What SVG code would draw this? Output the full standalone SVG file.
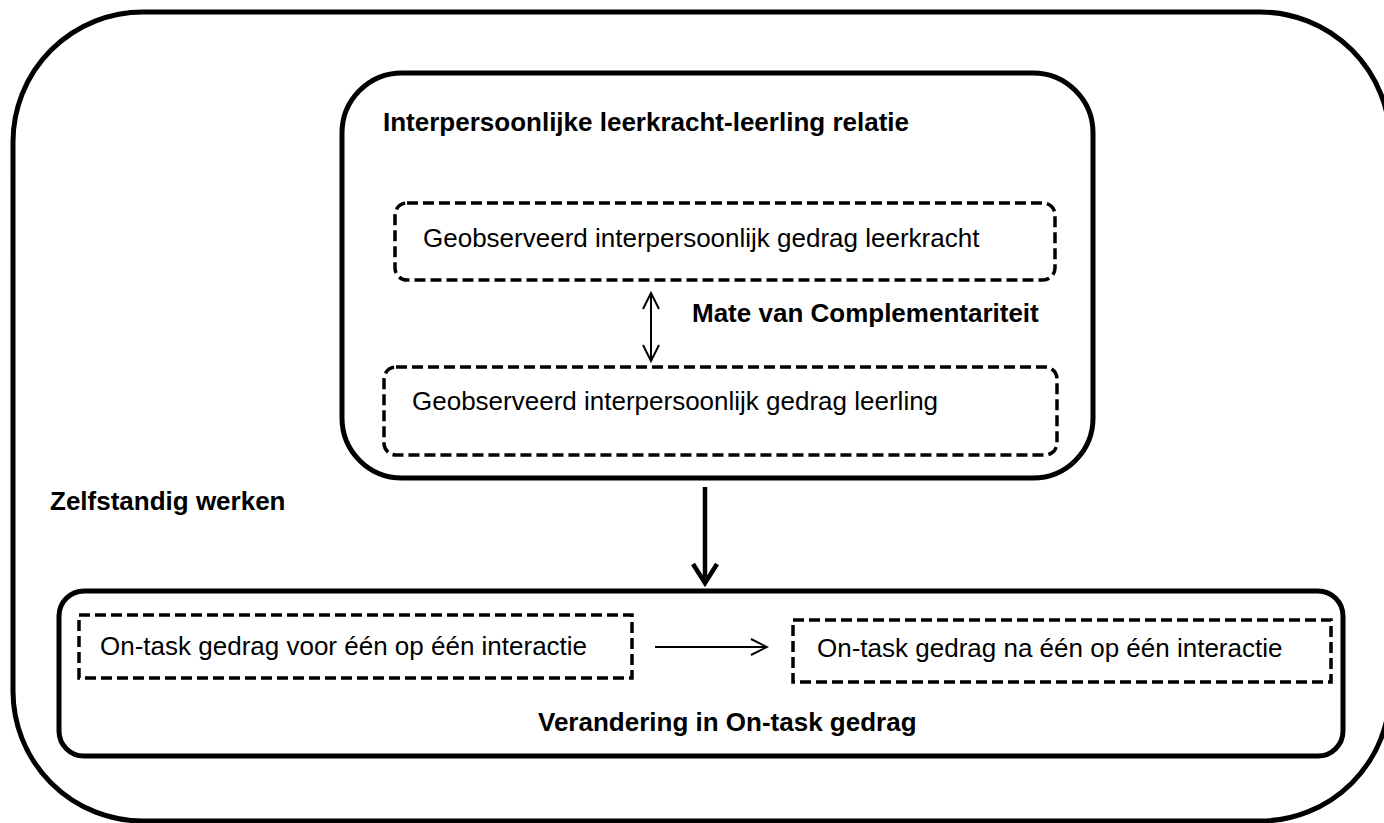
<svg xmlns="http://www.w3.org/2000/svg" width="1384" height="823" viewBox="0 0 1384 823">
<style>
  .solid { fill: none; stroke: #000; stroke-width: 5; }
  .dash { fill: none; stroke: #000; stroke-width: 3.5; stroke-dasharray: 11 5; }
  .t { font-family: "Liberation Sans", Arial, sans-serif; font-size: 26px; fill: #000; }
  .b { font-weight: bold; }
  .thin { fill: none; stroke: #000; stroke-width: 2; }
  .thick { fill: none; stroke: #000; stroke-width: 4.5; }
</style>
<defs>
  <marker id="openThin" viewBox="0 0 20 20" refX="18" refY="10" markerWidth="20" markerHeight="20" markerUnits="userSpaceOnUse" orient="auto-start-reverse">
    <path d="M2,2 L18,10 L2,18" fill="none" stroke="#000" stroke-width="2"/>
  </marker>
</defs>

<g id="outer">
  <rect class="solid" x="13" y="12" width="1377" height="809" rx="130" ry="130"/>
  <text class="t b" x="50" y="510">Zelfstandig werken</text>
</g>

<g id="relatie">
  <rect class="solid" x="342" y="73" width="751" height="405" rx="60" ry="60"/>
  <text class="t b" x="383" y="131">Interpersoonlijke leerkracht-leerling relatie</text>
</g>

<g id="leerkracht">
  <rect class="dash" x="395" y="203" width="660" height="77" rx="12" ry="12"/>
  <text class="t" x="423" y="247">Geobserveerd interpersoonlijk gedrag leerkracht</text>
</g>

<g id="complementariteit">
  <text class="t b" x="692" y="322">Mate van Complementariteit</text>
</g>

<g id="leerling">
  <rect class="dash" x="384" y="367" width="673" height="88" rx="12" ry="12"/>
  <text class="t" x="412" y="410">Geobserveerd interpersoonlijk gedrag leerling</text>
</g>

<g id="ontask">
  <rect class="solid" x="59" y="591" width="1284" height="165" rx="25" ry="25"/>
  <text class="t b" x="538" y="731">Verandering in On-task gedrag</text>
</g>

<g id="voor">
  <rect class="dash" x="79" y="615" width="553" height="63"/>
  <text class="t" x="100" y="655">On-task gedrag voor één op één interactie</text>
</g>

<g id="na">
  <rect class="dash" x="793" y="620" width="538" height="62"/>
  <text class="t" x="817" y="657">On-task gedrag na één op één interactie</text>
</g>

<g id="connectors">
  <line class="thin" x1="651" y1="293" x2="651" y2="361" marker-start="url(#openThin)" marker-end="url(#openThin)"/>
  <line class="thin" x1="655" y1="647" x2="767" y2="647" marker-end="url(#openThin)"/>
  <line class="thick" x1="705" y1="487" x2="705" y2="583"/>
  <polyline class="thick" points="693,564 705,583 717,564" stroke-linejoin="miter"/>
</g>
</svg>
